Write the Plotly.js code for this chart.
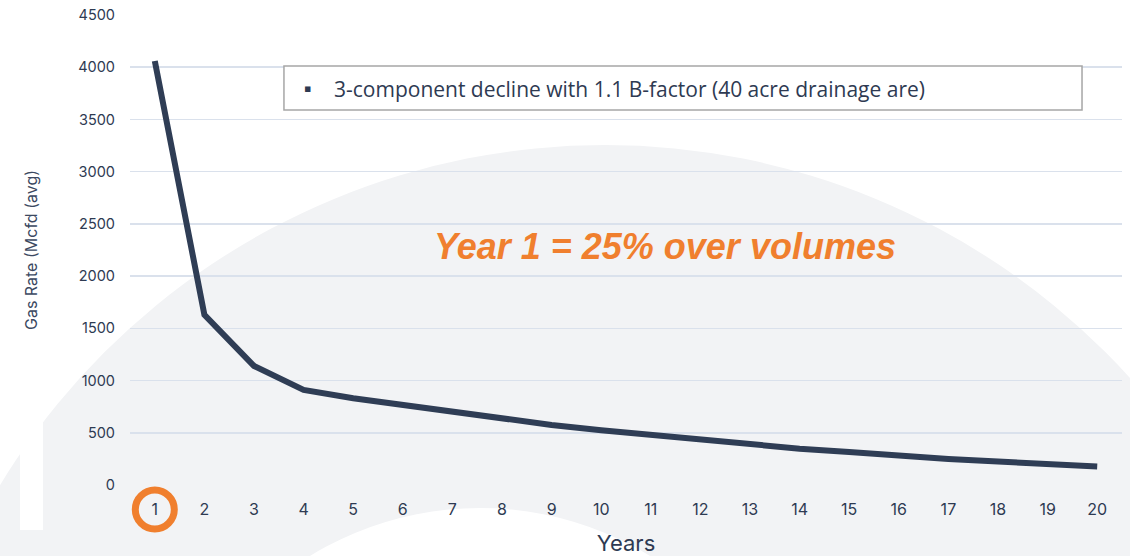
<!DOCTYPE html>
<html>
<head>
<meta charset="utf-8">
<script src="https://cdn.plot.ly/plotly-3.0.1.min.js"></script>
<style>
  html, body { margin: 0; padding: 0; background: #ffffff; }
  #chart { width: 1130px; height: 556px; }
</style>
</head>
<body>
<div id="chart"></div>
<script>
// Data
const years = [1, 2, 3, 4, 5, 6, 7, 8, 9, 10, 11, 12, 13, 14, 15, 16, 17, 18, 19, 20];
const gasRate = [4060, 1630, 1140, 910, 830, 765, 700, 635, 575, 525, 478, 432, 385, 348, 315, 280, 248, 225, 203, 178];
const yTicks = [0, 500, 1000, 1500, 2000, 2500, 3000, 3500, 4000, 4500];
const legendText = '3-component decline with 1.1 B-factor (40 acre drainage are)';
const calloutText = 'Year 1 = 25% over volumes';

const textColor = '#2e3a52';
const lineColor = '#2f3d55';
const orange = '#f07f2e';

const trace = {
  x: years,
  y: gasRate,
  type: 'scatter',
  mode: 'lines',
  line: { color: lineColor, width: 6 },
  hoverinfo: 'x+y',
  showlegend: false
};

const layout = {
  width: 1130,
  height: 556,
  margin: { l: 130, r: 8, t: 15, b: 71 },
  paper_bgcolor: '#ffffff',
  plot_bgcolor: 'rgba(0,0,0,0)',
  showlegend: false,
  font: { family: 'Inter, "Open Sans", sans-serif', color: textColor },
  xaxis: {
    range: [0.5, 20.5],
    tickvals: years,
    ticktext: years.map(String),
    showgrid: false,
    zeroline: false,
    showline: false,
    ticks: '',
    ticklabelstandoff: 13,
    tickfont: { family: 'Inter, sans-serif', size: 16, color: textColor },
    title: { text: 'Years', font: { family: 'Inter, sans-serif', size: 22, color: textColor }, standoff: 17 }
  },
  yaxis: {
    range: [0, 4500],
    tickvals: yTicks,
    ticktext: yTicks.map(String),
    showgrid: true,
    gridcolor: '#dae1ec',
    gridwidth: 1.5,
    zeroline: false,
    showline: false,
    ticks: '',
    ticklabelstandoff: 14,
    tickfont: { family: 'Inter, sans-serif', size: 14.5, color: textColor },
    title: { text: 'Gas Rate (Mcfd (avg)', font: { family: 'Inter, sans-serif', size: 16, color: '#3b4861' }, standoff: 36 }
  },
  shapes: [
    // background watermark dome
    { type: 'circle', xref: 'paper', yref: 'paper', x0: -0.2349, x1: 1.1925, y0: -2.289, y1: 0.7234,
      fillcolor: '#f2f3f5', line: { width: 0 }, layer: 'below' },
    { type: 'circle', xref: 'paper', yref: 'paper', x0: 0.0252, x1: 0.6804, y0: -1.432, y1: -0.0489,
      fillcolor: '#ffffff', line: { width: 0 }, layer: 'below' },
    { type: 'rect', xref: 'paper', yref: 'paper', x0: -0.1109, x1: -0.0877, y0: -0.0957, y1: 0.1809,
      fillcolor: '#ffffff', line: { width: 0 }, layer: 'below' },
    // legend-like box
    { type: 'rect', xref: 'paper', yref: 'paper', x0: 0.1552, x1: 0.9597, y0: 0.7979, y1: 0.8915,
      fillcolor: '#ffffff', line: { color: '#a6a6a6', width: 1.5 }, layer: 'above' },
    // orange ring around year 1 tick label
    { type: 'circle', xref: 'x', xsizemode: 'pixel', xanchor: years[0], x0: -19.5, x1: 19.5,
      yref: 'paper', ysizemode: 'pixel', yanchor: 0, y0: -44, y1: -5,
      fillcolor: 'rgba(0,0,0,0)', line: { color: orange, width: 7 }, layer: 'above' }
  ],
  annotations: [
    { xref: 'paper', yref: 'paper', x: 0.1794, y: 0.8426, xanchor: 'center', yanchor: 'middle',
      text: '▪', showarrow: false, font: { family: 'DejaVu Sans', size: 11, color: textColor } },
    { xref: 'paper', yref: 'paper', x: 0.2036, y: 0.8426, xanchor: 'left', yanchor: 'middle',
      text: legendText, showarrow: false, font: { family: '"Open Sans", sans-serif', size: 21, color: textColor } },
    { xref: 'paper', yref: 'paper', x: 0.5393, y: 0.5064, xanchor: 'center', yanchor: 'middle',
      text: '<b><i>' + calloutText + '</i></b>', showarrow: false,
      font: { family: '"Liberation Sans", Arial, sans-serif', size: 36, color: orange } }
  ]
};

Plotly.newPlot('chart', [trace], layout, { displayModeBar: false, staticPlot: true });
</script>
</body>
</html>
